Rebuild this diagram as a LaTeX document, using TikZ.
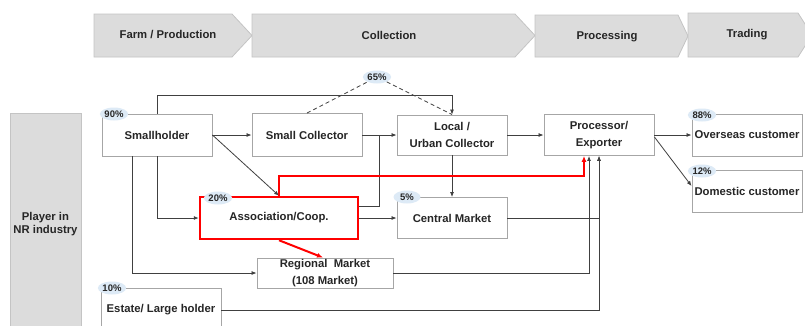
\documentclass[tikz,border=0pt]{standalone}
\usepackage{fontspec}
\setmainfont{Liberation Sans}
\usetikzlibrary{arrows.meta,shapes.geometric,calc}
\definecolor{hdrfill}{HTML}{DCDCDC}
\definecolor{hdrline}{HTML}{C4C4C4}
\definecolor{boxline}{HTML}{A6A6A6}
\definecolor{wirec}{HTML}{404040}
\definecolor{tagfill}{HTML}{DDEAF6}
\definecolor{ink}{HTML}{262626}

\begin{document}
\begin{tikzpicture}[x=1pt,y=-1pt,
  lbl/.style={font=\bfseries\fontsize{11.3}{17}\selectfont, text=ink, align=center},
  actor/.style={lbl, draw=boxline, line width=0.9pt, fill=white, inner sep=0pt},
  wire/.style={draw=wirec, line width=0.8pt},
  arr/.style={wire, -{Latex[length=5pt,width=4pt]}},
  redwire/.style={draw=red, line width=2pt, -{Latex[length=6pt,width=5pt]}},
  tag/.style={ellipse, fill=tagfill, inner sep=0.5pt, minimum width=27pt, minimum height=13pt,
              font=\bfseries\fontsize{9.5}{10}\selectfont, text=ink},
  stage/.style={fill=hdrfill, draw=hdrline, line width=0.8pt}
]
\clip (0,0) rectangle (805,325);
\fill[white] (0,0) rectangle (805,325);

% value-chain stages
\draw[stage] (94,14) -- (232,14) -- (252,35.5) -- (232,57) -- (94,57) -- cycle;
\draw[stage] (252,14) -- (515,14) -- (535,35.5) -- (515,57) -- (252,57) -- cycle;
\draw[stage] (535,15) -- (678,15) -- (688,36) -- (678,57) -- (535,57) -- cycle;
\draw[stage] (688,13) -- (798,13) -- (812,35) -- (798,57) -- (688,57) -- cycle;
\node[lbl] (sfarm) at (168,35) {Farm / Production};
\node[lbl] (scoll) at (389,35) {Collection};
\node[lbl] (sproc) at (607,37) {Processing};
\node[lbl] (strad) at (747,35) {Trading};

% row header
\node[fill=hdrfill, draw=hdrline, line width=0.5pt, minimum width=69pt, minimum height=222pt,
      font=\bfseries\fontsize{11.3}{13.5}\selectfont, text=ink, align=center] (player) at (45.5,224)
      {Player in\\NR industry};

% players
\node[actor, minimum width=110pt, minimum height=42pt] (sh) at (157,135) {Smallholder};
\node[actor, minimum width=110pt, minimum height=43pt] (sc) at (307,135) {Small Collector};
\node[actor, minimum width=110pt, minimum height=40pt] (lc) at (452,135) {Local /\\Urban Collector};
\node[actor, minimum width=110pt, minimum height=41pt] (pe) at (599,135) {Processor/\\Exporter};
\node[actor, minimum width=110pt, minimum height=42pt] (oc) at (747,135) {Overseas customer};
\node[actor, minimum width=110pt, minimum height=42pt] (dc) at (747,191) {Domestic customer};
\node[actor, minimum width=110pt, minimum height=41pt] (cm) at (452,218) {Central Market};
\node[actor, draw=red, line width=2.5pt, minimum width=158pt, minimum height=42pt] (as) at (279,218) {Association/Coop.};
\node[actor, minimum width=136pt, minimum height=30pt] (rm) at (325,273) {Regional~ Market\\(108 Market)};
\node[actor, minimum width=120pt, minimum height=44pt] (es) at (161,310) {Estate/ Large holder};

\coordinate (topline) at (0,95);

% flows
\draw[arr] (sh.east) -- (sc.west);
\draw[arr] (sh.north) -- (sh.north |- topline) -| (lc.north);
\draw[arr] (sh.east) -- (as.north);
\draw[arr] (sh.south) |- (as.west);
\draw[arr] ([xshift=-25pt]sh.south) |- (rm.west);
\draw[arr] (sc.east) -- (lc.west);
\draw[wire] ([yshift=12pt]as.east) -| ($(sc.east)!0.5!(lc.west)$);
\draw[arr] (as.east) -- (cm.west);
\draw[arr] (lc.east) -- (pe.west);
\draw[arr] (lc.south) -- (cm.north);
\draw[arr] (cm.east) -| (pe.south);
\draw[arr] (es.east) -| (pe.south);
\draw[arr] (rm.east) -| ([xshift=-10pt]pe.south);
\draw[arr] (pe.east) -- (oc.west);
\draw[arr] ([yshift=-2pt]pe.east) -- ([yshift=5pt]dc.west);

% cooperative flows
\draw[redwire] (as.north) -- ++(0,-20) -| ([xshift=-15pt]pe.south);
\draw[redwire] (as.south) -- ([xshift=-2pt]rm.north);

% shares
\node[tag] (t90) at (114,114) {90\%};
\node[tag] (t65) at (377,77) {65\%};
\node[tag] (t20) at (218,198) {20\%};
\node[tag] (t5)  at (407,197) {5\%};
\node[tag] (t88) at (702,115) {88\%};
\node[tag] (t12) at (702,171) {12\%};
\node[tag] (t10) at (112,288) {10\%};

\draw[wire, dash pattern=on 4pt off 3pt] (sc.north) -- (t65);
\draw[wire, dash pattern=on 4pt off 3pt] (t65) -- (lc.north);
\end{tikzpicture}
\end{document}
